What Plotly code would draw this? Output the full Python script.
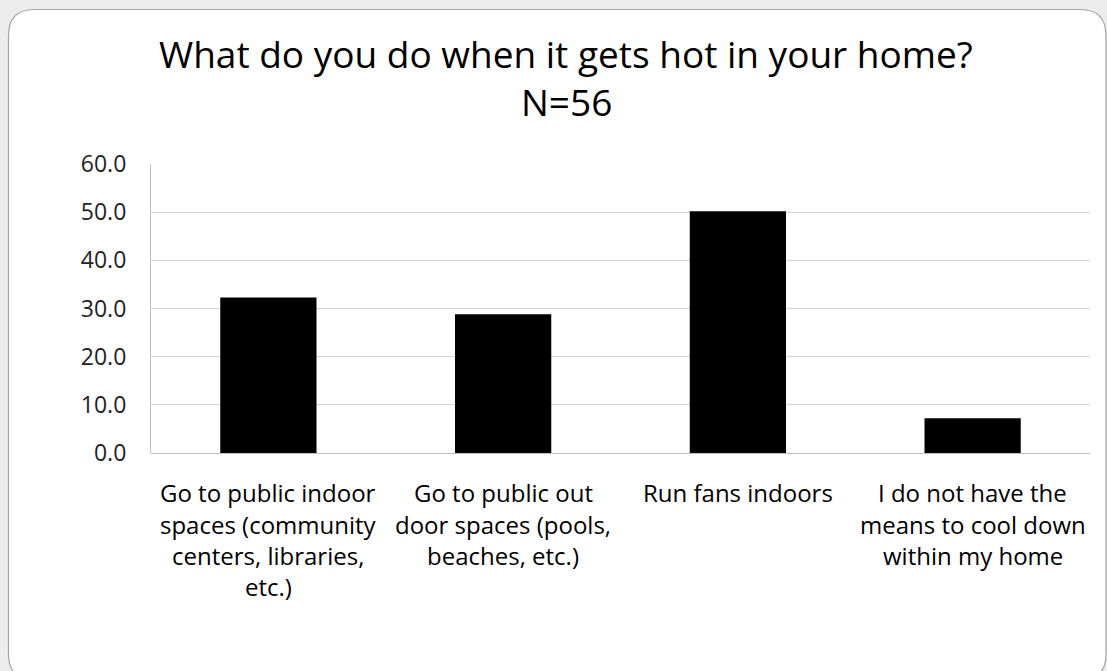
import plotly.graph_objects as go

categories = ["Go to public indoor spaces (community centers, libraries, etc.)",
              "Go to public out door spaces (pools, beaches, etc.)",
              "Run fans indoors",
              "I do not have the means to cool down within my home"]
label_lines = [["Go to public indoor", "spaces (community", "centers, libraries,", "etc.)"],
               ["Go to public out", "door spaces (pools,", "beaches, etc.)"],
               ["Run fans indoors"],
               ["I do not have the", "means to cool down", "within my home"]]
values = [32.3, 28.8, 50.2, 7.2]
tick_vals = [0, 10, 20, 30, 40, 50, 60]
tick_text = ["0.0", "10.0", "20.0", "30.0", "40.0", "50.0", "60.0"]
title_line1 = "What do you do when it gets hot in your home?"
title_line2 = "N=56"

W, H = 1107, 671
L, R, T, B = 151, 1090, 164, 453
FONT = "'Open Sans', sans-serif"

def px(xp):
    return (xp - L) / (R - L)

def py(yp):
    return (B - yp) / (B - T)

fig = go.Figure(go.Bar(x=categories, y=values, marker=dict(color="black", line=dict(width=0)), width=0.41))

# card with rounded corners
x0, y0, x1, y1, r = 8.5, 9.5, 1106, 680, 26
path = (f"M {px(x0)} {py(y0 + r)} Q {px(x0)} {py(y0)} {px(x0 + r)} {py(y0)} "
        f"L {px(x1 - r)} {py(y0)} Q {px(x1)} {py(y0)} {px(x1)} {py(y0 + r)} "
        f"L {px(x1)} {py(y1 - r)} Q {px(x1)} {py(y1)} {px(x1 - r)} {py(y1)} "
        f"L {px(x0 + r)} {py(y1)} Q {px(x0)} {py(y1)} {px(x0)} {py(y1 - r)} Z")
shapes = [dict(type="path", xref="paper", yref="paper", path=path,
               fillcolor="white", line=dict(color="#a6a6a6", width=1.2), layer="below")]

annotations = [
    dict(text=title_line1, xref="paper", yref="paper", x=px(566), y=py(54), showarrow=False,
         font=dict(family=FONT, size=37, color="black"), xanchor="center", yanchor="middle"),
    dict(text=title_line2, xref="paper", yref="paper", x=px(566), y=py(101), showarrow=False,
         font=dict(family=FONT, size=37, color="black"), xanchor="center", yanchor="middle"),
]
for cat, lines in zip(categories, label_lines):
    for i, line in enumerate(lines):
        annotations.append(dict(text=line, x=cat, xref="x", yref="paper", y=py(493 + 31.3 * i),
                                showarrow=False, xanchor="center", yanchor="middle",
                                font=dict(family=FONT, size=24, color="black")))

fig.update_layout(
    width=W, height=H,
    margin=dict(l=L, r=W - R, t=T, b=H - B, pad=0),
    paper_bgcolor="#ececec", plot_bgcolor="rgba(0,0,0,0)",
    showlegend=False, bargap=0.59,
    shapes=shapes, annotations=annotations,
    xaxis=dict(showticklabels=False, showgrid=False, zeroline=False, showline=False, ticks=""),
    yaxis=dict(range=[0, 60], tickvals=tick_vals, ticktext=tick_text, showgrid=True,
               gridcolor="#d4d4d4", gridwidth=1, zeroline=True, zerolinecolor="#bfbfbf",
               zerolinewidth=1.2, showline=True, linecolor="#bfbfbf", linewidth=1.2,
               ticks="", ticklabelstandoff=19,
               tickfont=dict(family=FONT, size=23, color="#222")),
)
fig.write_html("out.html")
